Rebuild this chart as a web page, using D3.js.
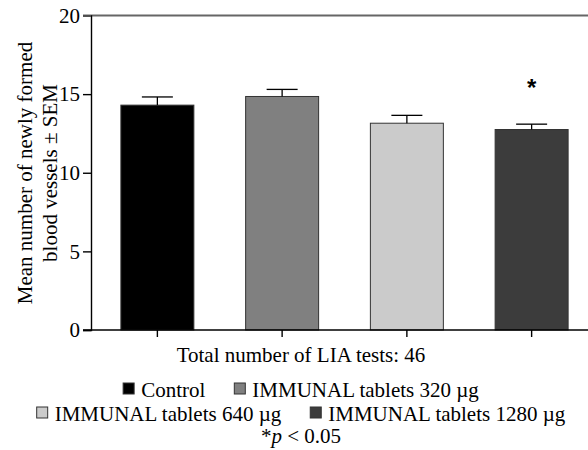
<!DOCTYPE html>
<html>
<head>
<meta charset="utf-8">
<script src="https://cdn.jsdelivr.net/npm/d3@7"></script>
<style>
	body { margin: 0; background: #fff; }
</style>
</head>
<body>
<div id="chart"></div>
<script>
// Chart values
var groups = ["Control", "IMMUNAL tablets 320 \u00b5g", "IMMUNAL tablets 640 \u00b5g", "IMMUNAL tablets 1280 \u00b5g"];
var means = [14.3, 14.85, 13.15, 12.75];
var sems = [0.52, 0.45, 0.5, 0.34];
var significant = [false, false, false, true];
var fills = ["#000000", "#808080", "#cbcbcb", "#3c3c3c"];
var yTicks = [0, 5, 10, 15, 20];
var legendRows = [[0, 1], [2, 3]];

var width = 588, height = 450;
var fontSize = 21;
var serif = "Liberation Serif";

var svg = d3.select("#chart").append("svg")
	.attr("width", width)
	.attr("height", height)
	.attr("font-family", serif);

var x = d3.scaleBand()
	.domain(groups)
	.range([95, 594])
	.paddingInner(0.415)
	.paddingOuter(0.2075);

var y = d3.scaleLinear()
	.domain([0, 20])
	.range([330, 15.5]);

//Top reference line at 20, drawn in grey across the plot
svg.append("line")
	.attr("x1", 83).attr("x2", width)
	.attr("y1", y(20)).attr("y2", y(20))
	.attr("stroke", "#666").attr("stroke-width", 1.8);

//Bars
svg.selectAll("rect.bar")
	.data(groups)
	.enter().append("rect")
	.attr("class", "bar")
	.attr("x", function(d) { return x(d); })
	.attr("width", x.bandwidth())
	.attr("y", function(d, i) { return y(means[i]); })
	.attr("height", function(d, i) { return y(0) - y(means[i]); })
	.attr("fill", function(d, i) { return fills[i]; })
	.attr("stroke", "#333")
	.attr("stroke-width", 1);

//Error bars (upper half only, as in the figure)
var capHalf = 15.5;
var err = svg.selectAll("g.err")
	.data(groups)
	.enter().append("g")
	.attr("class", "err")
	.attr("stroke", "#000")
	.attr("stroke-width", 1.3);

err.append("line")
	.attr("x1", function(d) { return x(d) + x.bandwidth() / 2; })
	.attr("x2", function(d) { return x(d) + x.bandwidth() / 2; })
	.attr("y1", function(d, i) { return y(means[i]); })
	.attr("y2", function(d, i) { return y(means[i] + sems[i]); });

err.append("line")
	.attr("x1", function(d) { return x(d) + x.bandwidth() / 2 - capHalf; })
	.attr("x2", function(d) { return x(d) + x.bandwidth() / 2 + capHalf; })
	.attr("y1", function(d, i) { return y(means[i] + sems[i]); })
	.attr("y2", function(d, i) { return y(means[i] + sems[i]); });

//Significance marks
svg.selectAll("text.star")
	.data(groups.filter(function(d, i) { return significant[i]; }))
	.enter().append("text")
	.attr("class", "star")
	.attr("x", function(d) { return x(d) + x.bandwidth() / 2; })
	.attr("y", function(d) { var i = groups.indexOf(d); return y(means[i] + sems[i]) - 28; })
	.attr("text-anchor", "middle")
	.attr("font-family", "Liberation Sans")
	.attr("font-weight", "bold")
	.attr("font-size", 24)
	.text("*");

//Y axis
var yAxis = d3.axisLeft(y)
	.tickValues(yTicks)
	.tickSize(8)
	.tickPadding(3)
	.tickFormat(d3.format("d"));

var yg = svg.append("g")
	.attr("transform", "translate(91,0)")
	.call(yAxis)
	.attr("font-family", serif)
	.attr("font-size", fontSize);
yg.select(".domain").attr("stroke", "#000").attr("stroke-width", 1.4);
yg.selectAll(".tick line").attr("stroke-width", 1.4);
yg.selectAll(".tick line").filter(function(d) { return d === 20; }).attr("stroke", "#666");

//X axis: ticks only, no labels
var xAxis = d3.axisBottom(x)
	.tickSize(7)
	.tickSizeOuter(0)
	.tickFormat("");

var xg = svg.append("g")
	.attr("transform", "translate(0," + y(0) + ")")
	.call(xAxis);
xg.select(".domain").attr("d", "M83,0H" + width).attr("stroke", "#000").attr("stroke-width", 1.4);
xg.selectAll(".tick line").attr("stroke-width", 1.4);

//Y axis title, two lines
var yTitle = svg.append("text")
	.attr("transform", "translate(0,173) rotate(-90)")
	.attr("text-anchor", "middle")
	.attr("font-size", fontSize);
yTitle.append("tspan").attr("x", 0).attr("y", 32).text("Mean number of newly formed");
yTitle.append("tspan").attr("x", 0).attr("y", 57).text("blood vessels \u00b1 SEM");

//Caption under the axis
svg.append("text")
	.attr("x", 301)
	.attr("y", 362)
	.attr("text-anchor", "middle")
	.attr("font-size", fontSize)
	.text("Total number of LIA tests: 46");

//Legend, rows centred under the chart
var sq = 11, sqGap = 7, itemGap = 29;
var rowBaselines = [397, 421];

legendRows.forEach(function(row, r) {
	var g = svg.append("g");
	var cursor = 0;
	row.forEach(function(idx, k) {
		if(k > 0) cursor += itemGap;
		g.append("rect")
			.attr("x", cursor)
			.attr("y", rowBaselines[r] - 14)
			.attr("width", sq)
			.attr("height", sq)
			.attr("fill", fills[idx])
			.attr("stroke", "#333")
			.attr("stroke-width", 1);
		cursor += sq + sqGap;
		var t = g.append("text")
			.attr("x", cursor)
			.attr("y", rowBaselines[r])
			.attr("font-size", fontSize)
			.text(groups[idx]);
		cursor += t.node().getComputedTextLength();
	});
	g.attr("transform", "translate(" + (301 - cursor / 2) + ",0)");
});

var pNote = svg.append("text")
	.attr("x", 301)
	.attr("y", 443)
	.attr("text-anchor", "middle")
	.attr("font-size", fontSize);
pNote.append("tspan").text("*");
pNote.append("tspan").attr("font-style", "italic").text("p");
pNote.append("tspan").text(" < 0.05");
</script>
</body>
</html>
